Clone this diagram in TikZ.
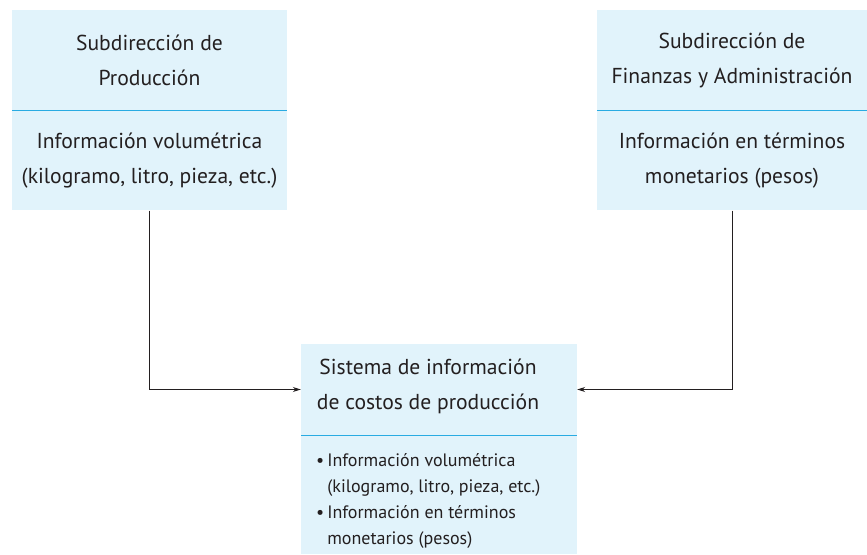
\documentclass[tikz,border=0pt]{standalone}
\usepackage{fontspec}
\setmainfont{PT Sans}
\usetikzlibrary{positioning,arrows.meta}
\definecolor{boxblue}{RGB}{225,243,251}
\definecolor{rulecyan}{RGB}{41,171,226}
\definecolor{inkgrey}{RGB}{35,31,32}

\begin{document}
\begin{tikzpicture}[x=1pt,y=1pt,
  part/.style={fill=boxblue,inner sep=0pt,align=center,text=inkgrey,
    font=\fontsize{21.6}{35}\selectfont},
  divider/.style={rulecyan,line width=1.2pt},
  link/.style={-{Stealth[length=8pt,width=5pt]},line width=0.8pt,draw=inkgrey}]
  \useasboundingbox (0,0) rectangle (867,554);
  % upper boxes
  \node (prodtop) [part,minimum width=275pt,minimum height=100pt] at (149.5,494)
    {Subdirección de\\Producción};
  \node (prodbot) [part,minimum width=275pt,minimum height=100pt,below=0pt of prodtop]
    {Información volumétrica\\(kilogramo, litro, pieza, etc.)};
  \node (fintop) [part,minimum width=270pt,minimum height=100pt] at (732,494)
    {Subdirección de\\Finanzas y Administración};
  \node (finbot) [part,minimum width=270pt,minimum height=100pt,below=0pt of fintop]
    {Información en términos\\monetarios (pesos)};
  % lower box
  \node (sistop) [part,minimum width=276pt,minimum height=91pt] at (439,164.5) {};
  \node (sisbot) [part,minimum width=276pt,minimum height=119pt,below=0pt of sistop] {};
  \node (sistitle) [part,fill=none] at (428,168)
    {Sistema de información\\de costos de producción};
  \node (sislist) [anchor=north west,inner sep=0pt,text=inkgrey,
    font=\fontsize{18}{26}\selectfont] at (316,106)
    {\begin{tabular}{@{}l@{\hspace{3pt}}l@{}}
      \textbullet & Información volumétrica\\
                  & (kilogramo, litro, pieza, etc.)\\
      \textbullet & Información en términos\\
                  & monetarios (pesos)
    \end{tabular}};
  \draw[divider] (prodtop.south west) -- (prodtop.south east);
  \draw[divider] (fintop.south west) -- (fintop.south east);
  \draw[divider] (sistop.south west) -- (sistop.south east);
  % connectors
  \draw[link] (prodbot.south) |- (sistop.west);
  \draw[link] (finbot.south) |- (sistop.east);
\end{tikzpicture}
\end{document}
